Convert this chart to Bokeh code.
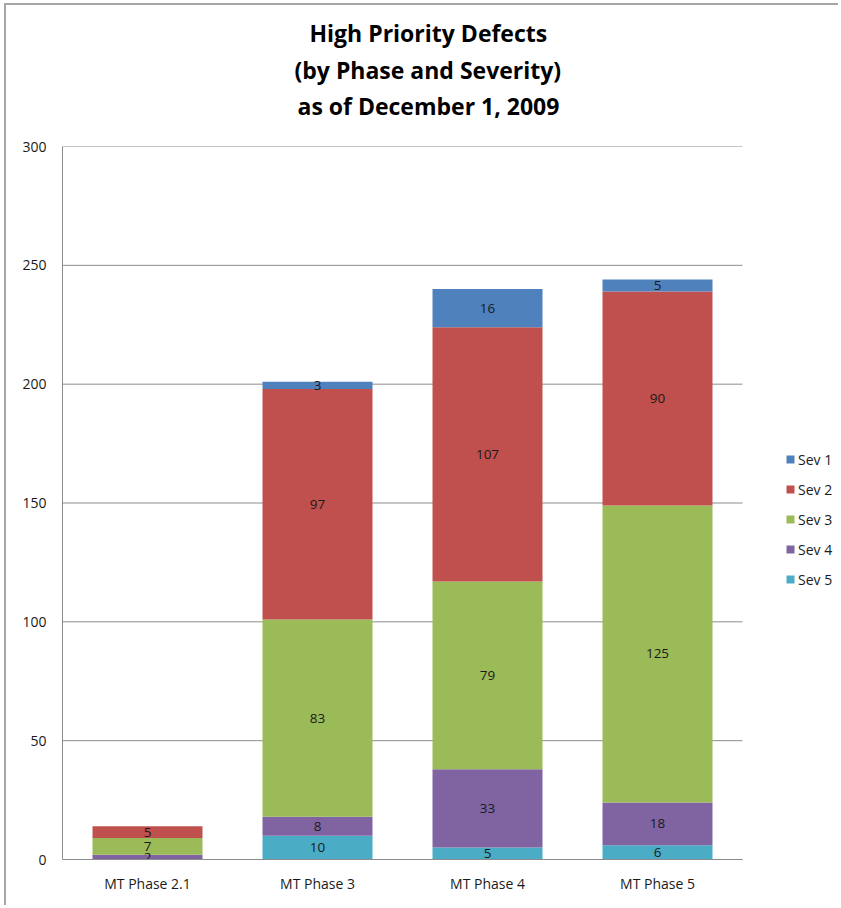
import numpy as np
from bokeh.plotting import figure
from bokeh.models import (ColumnDataSource, Range1d, Legend, LegendItem, Title, FixedTicker)
from bokeh.core.properties import value
from bokeh.embed import file_html
from bokeh.resources import INLINE

phases = ["MT Phase 2.1", "MT Phase 3", "MT Phase 4", "MT Phase 5"]
sev5 = [0, 10, 5, 6]
sev4 = [2, 8, 33, 18]
sev3 = [7, 83, 79, 125]
sev2 = [5, 97, 107, 90]
sev1 = [0, 3, 16, 5]
y_ticks = [0, 50, 100, 150, 200, 250, 300]
series_names = ["Sev 5", "Sev 4", "Sev 3", "Sev 2", "Sev 1"]
colors = ["#4BACC6", "#8064A2", "#9BBB59", "#C0504D", "#4F81BD"]
title_lines = ["High Priority Defects", "(by Phase and Severity)", "as of December 1, 2009"]

FONT = "Open Sans"
TXT = "#1a1a1a"

n = len(phases)
xpos = list(range(n))
data = {"x": xpos, "s5": sev5, "s4": sev4, "s3": sev3, "s2": sev2, "s1": sev1}
source = ColumnDataSource(data)
keys = ["s5", "s4", "s3", "s2", "s1"]

W, H = 834, 902
BL, BT, BB = 56, 141, 48
frame_w = W - BL
plot_w = 680  # width of the category area in px; the rest on the right holds the legend
x_end = n - 0.5 + (frame_w - plot_w) / (plot_w / n)

p = figure(width=W, height=H, x_range=Range1d(-0.5, x_end), y_range=Range1d(0, 300),
           output_backend="svg", toolbar_location=None,
           min_border_left=BL, min_border_right=0, min_border_bottom=BB,
           min_border_top=BT)
p.title = None
# spacer between the title block and the plot
p.add_layout(Title(text=" ", text_font=FONT, text_font_size="16px", standoff=0), "above")
# left offsets (px from the plot's left edge) that centre each title line on the chart
title_offsets = [247, 232, 235]
title_standoffs = [3, 2, 2]
for txt, off, so in reversed(list(zip(title_lines, title_offsets, title_standoffs))):
    p.add_layout(Title(text=txt, align="left", text_font=FONT, text_font_size="23px",
                       text_font_style="bold", text_color="#000000", standoff=so,
                       offset=off), "above")

# horizontal gridlines over the category area only
p.segment(x0=-0.5, x1=n - 0.5, y0=y_ticks, y1=y_ticks, line_color="#8c8c8c",
          line_width=1, level="underlay")

renderers = p.vbar_stack(keys, x="x", width=0.647, color=colors, line_color=None,
                         source=source)

# data labels
xs, ys, ts = [], [], []
stack = np.array([sev5, sev4, sev3, sev2, sev1], dtype=float)
cum = np.cumsum(stack, axis=0)
for j in range(n):
    for i in range(stack.shape[0]):
        v = stack[i, j]
        if v > 0:
            xs.append(xpos[j])
            ys.append(cum[i, j] - v / 2)
            ts.append(str(int(v)))
lab_src = ColumnDataSource(dict(x=xs, y=ys, t=ts))
p.text(x="x", y="y", text="t", source=lab_src, text_align="center", text_baseline="middle",
       text_font=value(FONT), text_font_size="13.5px", text_color=TXT)

# legend
items = [LegendItem(label=series_names[i], renderers=[renderers[i]]) for i in [4, 3, 2, 1, 0]]
legend = Legend(items=items, location=(723, 270), orientation="vertical",
                glyph_width=10, glyph_height=10, label_height=20, spacing=10,
                padding=0, margin=0, border_line_color=None, background_fill_alpha=0,
                label_text_font=FONT, label_text_font_size="14px", label_standoff=3,
                label_text_color=TXT)
p.add_layout(legend, "center")

# axes
p.yaxis.ticker = FixedTicker(ticks=y_ticks)
p.yaxis.major_tick_out = 0
p.yaxis.major_tick_in = 0
p.yaxis.minor_tick_line_color = None
p.yaxis.major_label_standoff = 16
p.yaxis.axis_line_color = "#8c8c8c"
p.yaxis.major_label_text_font = FONT
p.yaxis.major_label_text_font_size = "14px"
p.yaxis.major_label_text_color = TXT

p.xaxis.ticker = FixedTicker(ticks=xpos)
p.xaxis.major_label_overrides = {i: phases[i] for i in xpos}
p.xaxis.bounds = (-0.5, n - 0.5)
p.xaxis.major_tick_out = 0
p.xaxis.major_tick_in = 0
p.xaxis.minor_tick_line_color = None
p.xaxis.axis_line_color = "#8c8c8c"
p.xaxis.major_label_standoff = 14
p.xaxis.major_label_text_font = FONT
p.xaxis.major_label_text_font_size = "14px"
p.xaxis.major_label_text_color = TXT

p.xgrid.grid_line_color = None
p.ygrid.grid_line_color = None
p.outline_line_color = None
p.background_fill_color = "white"
p.border_fill_color = "white"

# outer chart border (top-left corner of the chart area)
p.styles = {"border-left": "2px solid #a6a6a6", "border-top": "2px solid #a6a6a6",
            "margin-left": "4px", "margin-top": "3px", "overflow": "hidden"}

open("out.html", "w").write(file_html(p, INLINE))
